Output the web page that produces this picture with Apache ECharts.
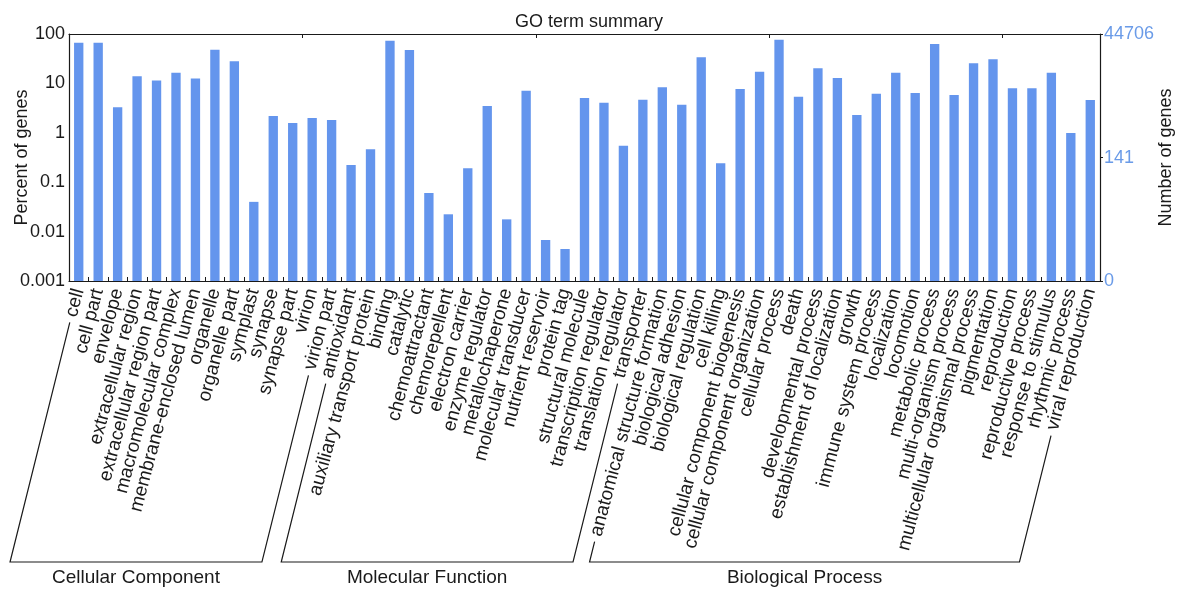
<!DOCTYPE html>
<html>
<head>
<meta charset="utf-8">
<title>GO term summary</title>
<script src="https://cdn.jsdelivr.net/npm/echarts@6.0.0/dist/echarts.min.js"></script>
<style>
  html, body { margin: 0; padding: 0; background: #fff; }
  #chart { width: 1183px; height: 590px; }
</style>
</head>
<body>
<div id="chart"></div>
<script>
// GO categories and the percent of annotated genes in each term
const ccTerms = ['cell', 'cell part', 'envelope', 'extracellular region', 'extracellular region part',
  'macromolecular complex', 'membrane-enclosed lumen', 'organelle', 'organelle part', 'symplast',
  'synapse', 'synapse part', 'virion', 'virion part'];
const ccPercent = [66.7, 66.7, 3.28, 13.9, 11.5, 16.5, 12.5, 48.2, 28.0, 0.040, 2.19, 1.58, 2.00, 1.82];

const mfTerms = ['antioxidant', 'auxiliary transport protein', 'binding', 'catalytic', 'chemoattractant',
  'chemorepellent', 'electron carrier', 'enzyme regulator', 'metallochaperone', 'molecular transducer',
  'nutrient reservoir', 'protein tag', 'structural molecule', 'transcription regulator',
  'translation regulator', 'transporter'];
const mfPercent = [0.223, 0.463, 73.2, 47.5, 0.0604, 0.0224, 0.191, 3.49, 0.0177, 7.12, 0.00676, 0.00445,
  5.06, 4.07, 0.548, 4.68];

const bpTerms = ['anatomical structure formation', 'biological adhesion', 'biological regulation',
  'cell killing', 'cellular component biogenesis', 'cellular component organization', 'cellular process',
  'death', 'developmental process', 'establishment of localization', 'growth', 'immune system process',
  'localization', 'locomotion', 'metabolic process', 'multi-organism process',
  'multicellular organismal process', 'pigmentation', 'reproduction', 'reproductive process',
  'response to stimulus', 'rhythmic process', 'viral reproduction'];
const bpPercent = [8.34, 3.71, 33.7, 0.241, 7.70, 17.3, 76.7, 5.38, 20.2, 12.9, 2.29, 6.19, 16.5, 6.39,
  62.8, 5.82, 25.5, 30.7, 7.96, 7.96, 16.5, 0.99, 4.61];

const groupNames = ['Cellular Component', 'Molecular Function', 'Biological Process'];

// left axis (percent) range and right axis (gene count) tick labels
const percentMin = 0.001;
const percentMax = 100;
const totalGenes = 44706;
const geneTicks = [0, 141, 44706];

const categories = ccTerms.concat(mfTerms, bpTerms);
const percents = ccPercent.concat(mfPercent, bpPercent);
const groups = [ccTerms, mfTerms, bpTerms];

const FONT = '"Liberation Sans", Arial, Helvetica, sans-serif';
const INK = '#1a1a1a';
const BAR = '#6495ED';
const LABEL_ROTATE = 75;
const BRACKET_ANGLE = 76;
const LABEL_MARGIN = 8;
const FONT_SIZE = 19;
const TICK_FONT_SIZE = 18;

// the right axis shares the left axis's log range; it runs over log10(percent)
const logMin = Math.log10(percentMin);
const logMax = Math.log10(percentMax);
const geneTickPositions = geneTicks.map(n => n <= 0 ? logMin : Math.log10(n / totalGenes * 100));

const chart = echarts.init(document.getElementById('chart'), null, { renderer: 'canvas' });

const option = {
  animation: false,
  textStyle: { fontFamily: FONT },
  title: {
    text: 'GO term summary',
    left: 584, top: 8, textAlign: 'center',
    textStyle: { fontFamily: FONT, fontSize: 18, fontWeight: 'normal', color: INK }
  },
  grid: { left: 69, right: 83, top: 34, bottom: 309, containLabel: false, outerBoundsMode: 'none' },
  xAxis: [
    {
      type: 'category', data: categories, position: 'bottom',
      axisLine: { show: true, onZero: false, lineStyle: { color: INK, width: 1.2 } },
      axisTick: { show: true, inside: true, length: 4, lineStyle: { color: INK } },
      axisLabel: {
        interval: 0, rotate: LABEL_ROTATE, margin: LABEL_MARGIN,
        fontFamily: FONT, fontSize: FONT_SIZE, color: INK
      }
    },
    {
      type: 'category', data: categories, position: 'top',
      axisLine: { show: true, onZero: false, lineStyle: { color: INK, width: 1.2 } },
      axisTick: { show: true, inside: true, length: 4, lineStyle: { color: INK } },
      axisLabel: { show: false }
    }
  ],
  yAxis: [
    {
      type: 'log', logBase: 10, min: percentMin, max: percentMax, startValue: percentMin,
      position: 'left',
      name: 'Percent of genes', nameLocation: 'middle', nameGap: 38, nameRotate: 90,
      nameMoveOverlap: false,
      nameTextStyle: { fontFamily: FONT, fontSize: 18, color: INK },
      axisLine: { show: true, onZero: false, lineStyle: { color: INK, width: 1.2 } },
      axisTick: { show: false },
      splitLine: { show: false },
      axisLabel: {
        margin: 4, fontFamily: FONT, fontSize: TICK_FONT_SIZE, color: INK,
        formatter: v => String(+v.toPrecision(3))
      }
    },
    {
      type: 'value', min: logMin, max: logMax, position: 'right',
      name: 'Number of genes', nameLocation: 'middle', nameGap: 57, nameRotate: 90,
      nameMoveOverlap: false,
      nameTextStyle: { fontFamily: FONT, fontSize: 18, color: INK },
      axisLine: { show: true, onZero: false, lineStyle: { color: INK, width: 1.2 } },
      axisTick: { show: true, length: 3, customValues: geneTickPositions, lineStyle: { color: INK } },
      splitLine: { show: false },
      axisLabel: {
        margin: 4, fontFamily: FONT, fontSize: TICK_FONT_SIZE, color: '#6a9be8',
        customValues: geneTickPositions,
        formatter: v => String(Math.round(Math.pow(10, v) * totalGenes / 100))
      }
    }
  ],
  series: [
    {
      type: 'bar', xAxisIndex: 0, yAxisIndex: 0,
      data: percents, barWidth: '48%',
      itemStyle: { color: BAR }
    }
  ]
};

chart.setOption(option);

// group brackets: each side starts just past the rotated label of the first / last
// term in a group and runs down to a common baseline carrying the group name
const measure = document.createElement('canvas').getContext('2d');
measure.font = FONT_SIZE + 'px ' + FONT;

function labelStart(term, gap) {
  const cx = chart.convertToPixel({ xAxisIndex: 0 }, term);
  const axisY = chart.convertToPixel({ yAxisIndex: 0 }, percentMin);
  const rad = LABEL_ROTATE * Math.PI / 180;
  const w = measure.measureText(term).width + gap;
  return [cx - w * Math.cos(rad), axisY + LABEL_MARGIN + w * Math.sin(rad)];
}

function drawBrackets() {
  const baseY = 562;
  const rad = BRACKET_ANGLE * Math.PI / 180;
  const elements = [];
  groups.forEach((terms, gi) => {
    const top1 = labelStart(terms[0], 6);
    const top2 = labelStart(terms[terms.length - 1], 6);
    const bot1 = [top1[0] - (baseY - top1[1]) / Math.tan(rad), baseY];
    const bot2 = [top2[0] - (baseY - top2[1]) / Math.tan(rad), baseY];
    elements.push({
      type: 'polyline', silent: true,
      shape: { points: [top1, bot1, bot2, top2] },
      style: { stroke: INK, lineWidth: 1.2, fill: null }
    });
    elements.push({
      type: 'text', silent: true,
      x: (bot1[0] + bot2[0]) / 2, y: 578,
      style: {
        text: groupNames[gi], font: FONT_SIZE + 'px ' + FONT, fill: INK,
        align: 'center', verticalAlign: 'middle'
      }
    });
  });
  chart.setOption({ graphic: { elements: elements } });
}

drawBrackets();
</script>
</body>
</html>
